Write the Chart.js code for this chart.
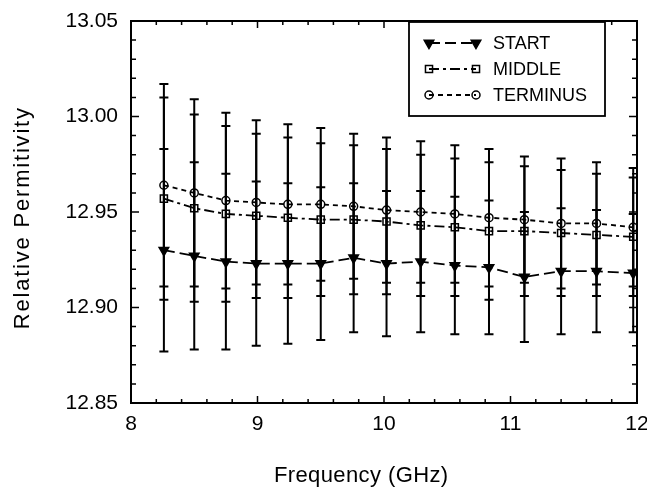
<!DOCTYPE html>
<html>
<head>
<meta charset="utf-8">
<script src="https://cdn.jsdelivr.net/npm/chart.js"></script>
<style>
  html, body { margin: 0; padding: 0; background: #fff; }
</style>
</head>
<body>
<canvas id="permChart" width="647" height="488"></canvas>
<script>
//frequency points (GHz)
let freq = [8.26, 8.50, 8.75, 8.99, 9.24, 9.50, 9.76, 10.02, 10.29, 10.56, 10.83, 11.11, 11.40, 11.68, 11.97]

//relative permitivity per location
let startVals = [12.930, 12.927, 12.924, 12.923, 12.923, 12.923, 12.926, 12.923, 12.924, 12.922, 12.921, 12.916, 12.919, 12.919, 12.918]
let middleVals = [12.957, 12.952, 12.949, 12.948, 12.947, 12.946, 12.946, 12.945, 12.943, 12.942, 12.940, 12.940, 12.939, 12.938, 12.937]
let terminusVals = [12.964, 12.960, 12.956, 12.955, 12.954, 12.954, 12.953, 12.951, 12.950, 12.949, 12.947, 12.946, 12.944, 12.944, 12.942]

//error bar half widths
let startErr = [0.053, 0.049, 0.046, 0.043, 0.042, 0.040, 0.039, 0.038, 0.037, 0.036, 0.035, 0.034, 0.033, 0.032, 0.031]
let middleErr = [0.053, 0.049, 0.046, 0.043, 0.042, 0.040, 0.039, 0.038, 0.037, 0.036, 0.036, 0.034, 0.033, 0.032, 0.031]
let terminusErr = [0.053, 0.049, 0.046, 0.043, 0.042, 0.040, 0.038, 0.038, 0.037, 0.036, 0.036, 0.033, 0.034, 0.032, 0.031]

let seriesNames = ["START", "MIDDLE", "TERMINUS"]

//axes
let xMin = 8, xMax = 12, xStep = 1, xMinor = 0.2
let yMin = 12.85, yMax = 13.05, yStep = 0.05, yMinor = 0.01
let xTitle = "Frequency (GHz)"
let yTitle = "Relative Permitivity"

let font = "'Liberation Sans', Arial, Helvetica, sans-serif"

function pts(vals) {
    return freq.map((f, i) => ({ x: f, y: vals[i] }))
}

//error bars, drawn through the scales
let errorBars = {
    id: "errorBars",
    beforeDatasetsDraw(chart) {
        let ctx = chart.ctx
        let xs = chart.scales.x
        let ys = chart.scales.y
        ctx.save()
        ctx.strokeStyle = "#000"
        ctx.lineWidth = 2
        chart.data.datasets.forEach(ds => {
            ds.data.forEach((p, i) => {
                let e = ds.errors[i]
                let px = xs.getPixelForValue(p.x)
                let top = ys.getPixelForValue(p.y + e)
                let bot = ys.getPixelForValue(p.y - e)
                ctx.beginPath()
                ctx.moveTo(px, top)
                ctx.lineTo(px, bot)
                ctx.moveTo(px - 4.5, top)
                ctx.lineTo(px + 4.5, top)
                ctx.moveTo(px - 4.5, bot)
                ctx.lineTo(px + 4.5, bot)
                ctx.stroke()
            })
        })
        ctx.restore()
    }
}

//box frame with inward ticks on all four sides, plus axis titles
let frameTicks = {
    id: "frameTicks",
    afterDraw(chart) {
        let ctx = chart.ctx
        let a = chart.chartArea
        let xs = chart.scales.x
        let ys = chart.scales.y
        ctx.save()
        ctx.strokeStyle = "#000"
        ctx.lineWidth = 2
        ctx.strokeRect(a.left, a.top, a.right - a.left, a.bottom - a.top)
        ctx.lineWidth = 1.5
        ctx.beginPath()
        let nx = Math.round((xMax - xMin) / xMinor)
        for (let i = 1; i < nx; i++) {
            let px = xs.getPixelForValue(xMin + i * xMinor)
            let len = (i % 5 == 0) ? 7 : 4
            ctx.moveTo(px, a.bottom)
            ctx.lineTo(px, a.bottom - len)
            ctx.moveTo(px, a.top)
            ctx.lineTo(px, a.top + len)
        }
        let ny = Math.round((yMax - yMin) / yMinor)
        for (let i = 1; i < ny; i++) {
            let py = ys.getPixelForValue(yMin + i * yMinor)
            let len = (i % 5 == 0) ? 8 : 5
            ctx.moveTo(a.left, py)
            ctx.lineTo(a.left + len, py)
            ctx.moveTo(a.right, py)
            ctx.lineTo(a.right - len, py)
        }
        ctx.stroke()

        //axis titles (spaced lettering like the original)
        ctx.fillStyle = "#000"
        ctx.textAlign = "center"
        ctx.textBaseline = "middle"
        ctx.font = "22px " + font
        ctx.letterSpacing = "0.4px"
        ctx.fillText(xTitle, a.left + (a.right - a.left) * 0.455, 476)
        ctx.letterSpacing = "1.8px"
        ctx.translate(23, a.top + (a.bottom - a.top) * 0.515)
        ctx.rotate(-Math.PI / 2)
        ctx.fillText(yTitle, 0, 0)
        ctx.restore()
    }
}

//boxed legend: marker - line - marker, then name
let boxLegend = {
    id: "boxLegend",
    afterDraw(chart) {
        let ctx = chart.ctx
        let a = chart.chartArea
        let bx = a.right - 228, by = a.top + 1, bw = 196, bh = 94
        ctx.save()
        ctx.fillStyle = "#fff"
        ctx.fillRect(bx, by, bw, bh)
        ctx.strokeStyle = "#000"
        ctx.lineWidth = 1.8
        ctx.strokeRect(bx, by, bw, bh)
        chart.data.datasets.forEach((ds, i) => {
            let y = by + 21 + i * 26
            let x1 = bx + 20, x2 = bx + 67
            ctx.strokeStyle = "#000"
            ctx.lineWidth = 1.8
            ctx.setLineDash(ds.borderDash)
            ctx.beginPath()
            ctx.moveTo(x1, y)
            ctx.lineTo(x2, y)
            ctx.stroke()
            ctx.setLineDash([])
            let opts = { pointStyle: ds.pointStyle, rotation: ds.pointRotation || 0, radius: ds.pointRadius, borderWidth: ds.pointBorderWidth }
            ;[x1, x2].forEach(x => {
                ctx.fillStyle = ds.pointBackgroundColor
                ctx.strokeStyle = "#000"
                ctx.lineWidth = ds.pointBorderWidth
                Chart.helpers.drawPoint(ctx, opts, x, y)
            })
            ctx.fillStyle = "#000"
            ctx.font = "18px " + font
            ctx.textBaseline = "middle"
            ctx.textAlign = "left"
            ctx.fillText(ds.label, bx + 84, y + 1)
        })
        ctx.restore()
    }
}

let myChart = document.getElementById("permChart").getContext("2d")
let chart = new Chart(myChart, {
    type: "line",
    data: {
        datasets: [{
            label: seriesNames[0],
            data: pts(startVals),
            errors: startErr,
            borderColor: "#000",
            borderWidth: 1.8,
            borderDash: [11, 5],
            pointStyle: "triangle",
            pointRotation: 180,
            pointRadius: 5.5,
            pointBorderWidth: 1.5,
            pointBackgroundColor: "#000",
            pointBorderColor: "#000"
        },
        {
            label: seriesNames[1],
            data: pts(middleVals),
            errors: middleErr,
            borderColor: "#000",
            borderWidth: 1.8,
            borderDash: [10, 4, 3, 4],
            pointStyle: "rect",
            pointRadius: 5,
            pointBorderWidth: 1.5,
            pointBackgroundColor: "rgba(0,0,0,0)",
            pointBorderColor: "#000"
        },
        {
            label: seriesNames[2],
            data: pts(terminusVals),
            errors: terminusErr,
            borderColor: "#000",
            borderWidth: 1.8,
            borderDash: [5, 4],
            pointStyle: "circle",
            pointRadius: 4,
            pointBorderWidth: 1.5,
            pointBackgroundColor: "rgba(0,0,0,0)",
            pointBorderColor: "#000"
        }]
    },
    options: {
        responsive: false,
        animation: false,
        layout: {
            padding: { top: 21, right: 10, left: 0, bottom: 0 }
        },
        plugins: {
            legend: { display: false },
            tooltip: { enabled: false }
        },
        scales: {
            x: {
                type: "linear",
                min: xMin,
                max: xMax,
                grid: { display: false, drawTicks: false },
                border: { display: false },
                ticks: {
                    stepSize: xStep,
                    padding: 9,
                    color: "#000",
                    font: { size: 21, family: font },
                    maxRotation: 0
                },
                afterFit(scale) {
                    scale.height = 85
                    scale.paddingLeft = 0
                    scale.paddingRight = 0
                }
            },
            y: {
                min: yMin,
                max: yMax,
                grid: { display: false, drawTicks: false },
                border: { display: false },
                ticks: {
                    stepSize: yStep,
                    padding: 13,
                    color: "#000",
                    font: { size: 21, family: font },
                    callback: v => v.toFixed(2)
                },
                afterFit(scale) {
                    scale.width = 131
                    scale.paddingTop = 0
                    scale.paddingBottom = 0
                }
            }
        }
    },
    plugins: [errorBars, frameTicks, boxLegend]
})
</script>
</body>
</html>
